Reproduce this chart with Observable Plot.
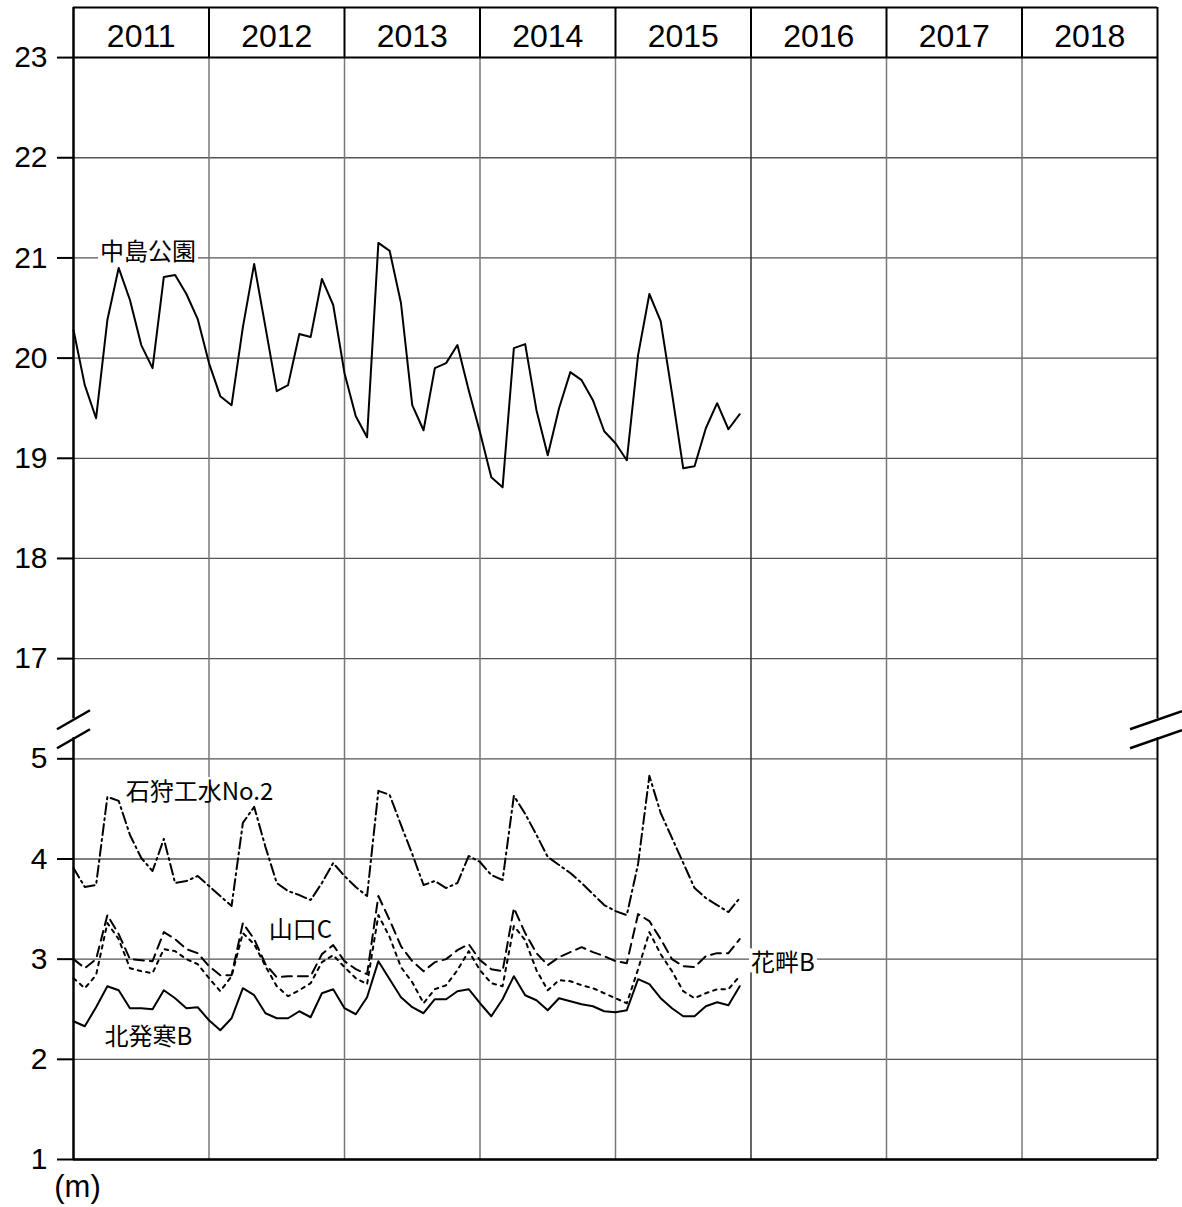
<!DOCTYPE html>
<html>
<head>
<meta charset="utf-8">
<script src="https://cdn.jsdelivr.net/npm/d3@7"></script>
<script src="https://cdn.jsdelivr.net/npm/@observablehq/plot@0.6"></script>
<style>
  html, body { margin: 0; padding: 0; background: #fff; }
  #chart svg { display: block; }
</style>
</head>
<body>
<div id="chart"></div>
<script>
// ---- data (monthly groundwater levels, m), Jan 2011 – Dec 2015 ----
const years = [2011, 2012, 2013, 2014, 2015, 2016, 2017, 2018];

const nakajima = [ // 中島公園 (upper band)
  20.28, 19.73, 19.40, 20.38, 20.90, 20.58, 20.13, 19.90, 20.81, 20.83, 20.64, 20.39,
  19.95, 19.62, 19.53, 20.31, 20.94, 20.31, 19.67, 19.73, 20.24, 20.21, 20.79, 20.53,
  19.85, 19.42, 19.21, 21.15, 21.07, 20.55, 19.53, 19.28, 19.90, 19.95, 20.13, 19.68,
  19.26, 18.81, 18.71, 20.10, 20.14, 19.48, 19.03, 19.50, 19.86, 19.78, 19.58, 19.27,
  19.15, 18.98, 20.03, 20.64, 20.37, 19.65, 18.90, 18.92, 19.30, 19.55, 19.29, 19.44
];
const ishikari = [ // 石狩工水No.2
  3.91, 3.72, 3.74, 4.62, 4.58, 4.24, 4.01, 3.88, 4.20, 3.76, 3.78, 3.83,
  3.73, 3.63, 3.53, 4.36, 4.52, 4.12, 3.76, 3.68, 3.64, 3.59, 3.76, 3.96,
  3.83, 3.72, 3.63, 4.68, 4.64, 4.34, 4.05, 3.74, 3.78, 3.71, 3.76, 4.03,
  3.97, 3.84, 3.79, 4.63, 4.45, 4.24, 4.02, 3.94, 3.86, 3.76, 3.65, 3.54,
  3.48, 3.44, 3.95, 4.83, 4.46, 4.21, 3.96, 3.71, 3.61, 3.54, 3.47, 3.61
];
const yamaguchi = [ // 山口C
  3.00, 2.91, 3.00, 3.44, 3.25, 3.00, 2.99, 2.98, 3.27, 3.20, 3.10, 3.06,
  2.93, 2.84, 2.84, 3.36, 3.20, 2.95, 2.82, 2.83, 2.83, 2.83, 3.05, 3.14,
  2.98, 2.90, 2.85, 3.63, 3.39, 3.13, 2.98, 2.88, 2.97, 3.00, 3.09, 3.15,
  2.99, 2.90, 2.88, 3.51, 3.26, 3.06, 2.94, 3.02, 3.07, 3.12, 3.07, 3.03,
  2.98, 2.96, 3.45, 3.38, 3.20, 3.00, 2.93, 2.92, 3.03, 3.06, 3.06, 3.20
];
const hanaguro = [ // 花畔B
  2.81, 2.71, 2.84, 3.36, 3.20, 2.91, 2.88, 2.86, 3.10, 3.08, 3.00, 2.95,
  2.81, 2.68, 2.83, 3.26, 3.15, 2.93, 2.73, 2.63, 2.69, 2.76, 2.97, 3.04,
  2.92, 2.81, 2.75, 3.44, 3.22, 2.92, 2.77, 2.56, 2.70, 2.74, 2.89, 3.08,
  2.89, 2.76, 2.73, 3.33, 3.19, 2.89, 2.69, 2.79, 2.78, 2.74, 2.71, 2.66,
  2.61, 2.56, 2.90, 3.27, 3.05, 2.88, 2.68, 2.61, 2.66, 2.70, 2.70, 2.83
];
const kitahassamu = [ // 北発寒B
  2.38, 2.33, 2.52, 2.73, 2.69, 2.51, 2.51, 2.50, 2.69, 2.61, 2.51, 2.52,
  2.39, 2.29, 2.41, 2.71, 2.64, 2.46, 2.41, 2.41, 2.48, 2.42, 2.66, 2.70,
  2.51, 2.45, 2.62, 2.98, 2.80, 2.62, 2.52, 2.46, 2.60, 2.60, 2.68, 2.70,
  2.56, 2.43, 2.60, 2.83, 2.64, 2.59, 2.49, 2.61, 2.58, 2.55, 2.53, 2.48,
  2.47, 2.49, 2.80, 2.75, 2.61, 2.51, 2.43, 2.43, 2.53, 2.57, 2.54, 2.73
];

// axis tick values (the scale is broken between 5 and 17)
const upperTicks = [17, 18, 19, 20, 21, 22, 23];
const lowerTicks = [1, 2, 3, 4, 5];
const unitLabel = "(m)";

// series labels
const labelText = ["中島公園", "石狩工水No.2", "山口C", "花畔B", "北発寒B"];
const labelT    = [2011.55, 2011.93, 2012.675, 2016.236, 2011.553];
const labelV    = [21.06, 4.67, 3.29, 2.96, 2.22];
const labelBand = ["upper", "lower", "lower", "lower", "lower"];

// ---- build ----
const SHIFT = 11;               // lower band value v is drawn at v + SHIFT
const TOP = 23.5;               // top of header row
const BOTTOM = 12;              // = 1 m in the lower band
const pos = (v, band) => band === "upper" ? v : v + SHIFT;
const t0 = years[0];
const tEnd = years[years.length - 1] + 1;

const toRows = (vals, band) => vals.map((v, i) => ({t: t0 + i / 12, v: pos(v, band)}));
const tickVals = [...lowerTicks.map(v => pos(v, "lower")), ...upperTicks];
const labelRows = labelText.map((s, i) => ({s, t: labelT[i], v: pos(labelV[i], labelBand[i])}));

const gapTop = 16.40, gapBottom = 16.21, breakV = 16.29;
const lineStyle = {x: "t", y: "v", stroke: "#000", strokeWidth: 2, curve: "linear"};
const LABEL_FS = 24;

const plot = Plot.plot({
  width: 1182,
  height: 1207,
  marginLeft: 73,
  marginRight: 25,
  marginTop: 7,
  marginBottom: 48,
  x: {domain: [t0, tEnd], axis: null},
  y: {domain: [BOTTOM, TOP], axis: null},
  style: {background: "#fff", color: "#000", fontFamily: "'Liberation Sans', Arial, sans-serif"},
  marks: [
    // horizontal grid
    Plot.ruleY(tickVals.filter(v => v !== 23), {x1: t0, x2: tEnd, stroke: "#555", strokeWidth: 1.3}),
    // vertical year grid in the plot area
    Plot.ruleX(years.slice(1), {y1: 23, y2: BOTTOM, stroke: d => d === 2016 ? "#333" : "#777", strokeWidth: 1.5}),
    // header cells
    Plot.ruleX(years.slice(1), {y1: TOP, y2: 23, stroke: "#000", strokeWidth: 2}),
    Plot.ruleY([23], {x1: t0, x2: tEnd, stroke: "#000", strokeWidth: 2}),
    Plot.ruleY([TOP], {x1: t0, x2: tEnd, stroke: "#000", strokeWidth: 2}),
    Plot.ruleY([BOTTOM], {x1: t0, x2: tEnd, stroke: "#000", strokeWidth: 2.5}),
    // left & right frame, broken at the axis break
    Plot.ruleX([t0], {y1: TOP, y2: gapTop, stroke: "#000", strokeWidth: 2.5}),
    Plot.ruleX([t0], {y1: gapBottom, y2: BOTTOM, stroke: "#000", strokeWidth: 2.5}),
    Plot.ruleX([tEnd], {y1: TOP, y2: gapTop, stroke: "#000", strokeWidth: 2}),
    Plot.ruleX([tEnd], {y1: gapBottom, y2: BOTTOM, stroke: "#000", strokeWidth: 2}),
    // y axis
    Plot.axisY({ticks: tickVals, tickSize: 16, tickPadding: 10, strokeWidth: 2,
      tickFormat: d => d <= 16 ? String(d - SHIFT) : String(d), fontSize: 30, label: null}),
    // year headers
    Plot.text(years, {x: d => d + 0.5, y: 23.25, text: d => String(d), fontSize: 32, dy: 4}),
    // series
    Plot.line(toRows(nakajima, "upper"), lineStyle),
    Plot.line(toRows(ishikari, "lower"), {...lineStyle, strokeDasharray: "11,4,2,4"}),
    Plot.line(toRows(yamaguchi, "lower"), {...lineStyle, strokeDasharray: "10,6"}),
    Plot.line(toRows(hanaguro, "lower"), {...lineStyle, strokeDasharray: "3.5,5"}),
    Plot.line(toRows(kitahassamu, "lower"), lineStyle),
    // series labels
    Plot.text(labelRows, {x: "t", y: "v", text: "s", fontSize: LABEL_FS,
      fontFamily: "'Noto Sans CJK JP', 'Noto Sans', sans-serif"}),
    // unit
    Plot.text([{t: t0, v: BOTTOM, s: unitLabel}], {x: "t", y: "v", text: "s", fontSize: 31, dy: 28, dx: 4})
  ]
});

document.getElementById("chart").appendChild(plot);

// white backgrounds behind series labels
const labelSet = new Set(labelText);
plot.querySelectorAll("text").forEach(t => {
  if (!labelSet.has(t.textContent)) return;
  const b = t.getBBox();
  const cy = b.y + b.height / 2;
  const r = document.createElementNS("http://www.w3.org/2000/svg", "rect");
  r.setAttribute("x", b.x - 2);
  r.setAttribute("width", b.width + 4);
  r.setAttribute("y", cy - LABEL_FS * 0.5);
  r.setAttribute("height", LABEL_FS);
  r.setAttribute("fill", "#fff");
  const tr = t.getAttribute("transform");
  if (tr) r.setAttribute("transform", tr);
  t.parentNode.insertBefore(r, t);
});

// axis-break slashes (positioned from the plot's own scales)
const xs = plot.scale("x"), ys = plot.scale("y");
const svg = d3.select(plot);
const by = ys.apply(breakV);
const lx = xs.apply(t0), rx = xs.apply(tEnd);
const slashes = [
  [lx - 16, by, lx + 17, by - 19], [lx - 16, by + 19, lx + 17, by],
  [rx - 27, by, rx + 25, by - 18], [rx - 27, by + 19, rx + 25, by + 1]
];
svg.append("g").selectAll("line").data(slashes).join("line")
  .attr("x1", d => d[0]).attr("y1", d => d[1]).attr("x2", d => d[2]).attr("y2", d => d[3])
  .attr("stroke", "#000").attr("stroke-width", 2.5);
</script>
</body>
</html>
